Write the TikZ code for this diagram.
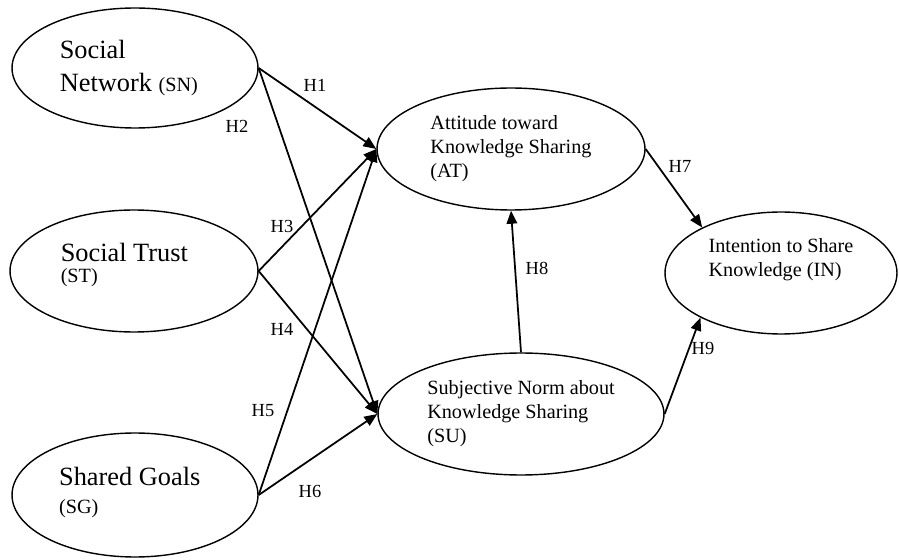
\documentclass[tikz,border=0pt]{standalone}
\usepackage{fontspec}
\setmainfont{Liberation Serif}
\usetikzlibrary{arrows.meta,shapes.geometric}
\def\abbr#1{{\fontsize{11.5}{13}\selectfont(#1)}}

\begin{document}
\begin{tikzpicture}[x=0.02cm, y=-0.02cm,
		construct/.style={ellipse, draw, line width=0.8pt, inner sep=0pt, align=left},
		bigtext/.style={font=\fontsize{15}{19}\selectfont},
		smalltext/.style={font=\fontsize{11.5}{13.6}\selectfont},
		path/.style={line width=1pt, -{Triangle[length=2.6mm, width=2.1mm]}},
		hyp/.style={font=\fontsize{10.5}{12}\selectfont, inner sep=1pt}]
		%%%%% START %%%%%
		\useasboundingbox (0, 0) rectangle (899, 560);
		
		% exogenous constructs
		\node[construct, bigtext, minimum width=4.92cm, minimum height=2.40cm] (SN) at (135, 68) {Social\\Network \abbr{SN}\hspace*{7pt}};
		\node[construct, bigtext, minimum width=4.96cm, minimum height=2.44cm] (ST) at (134, 271) {Social Trust\hspace*{11pt}\\[-7pt]\abbr{ST}\\[-10pt]\mbox{}};
		\node[construct, bigtext, minimum width=4.92cm, minimum height=2.48cm] (SG) at (135, 495) {Shared Goals\hspace*{6pt}\\[-3pt]\abbr{SG}\\[-14pt]\mbox{}};
		
		% mediators and outcome
		\node[construct, smalltext, minimum width=5.36cm, minimum height=2.44cm] (AT) at (511, 149) {Attitude toward\\Knowledge Sharing\\(AT)};
		\node[construct, smalltext, minimum width=5.72cm, minimum height=2.44cm] (SU) at (521, 414) {Subjective Norm about\\Knowledge Sharing\\(SU)};
		\node[construct, smalltext, minimum width=4.64cm, minimum height=2.44cm] (IN) at (781, 273) {Intention to Share\\Knowledge (IN)\\[4pt]\mbox{}};
		
		% hypotheses
		\draw[path] (SN.east) -- (AT.west);
		\draw[path] (SN.east) -- (SU.west);
		\draw[path] (ST.east) -- (AT.west);
		\draw[path] (ST.east) -- (SU.west);
		\draw[path] (SG.east) -- (AT.west);
		\draw[path] (SG.east) -- (SU.west);
		\draw[path] (AT.east) -- (IN.150);
		\draw[path] (SU.north) -- (AT.south);
		\draw[path] (SU.east) -- (IN.209);
		
		\node[hyp] (h1) at (315, 85) {H1};
		\node[hyp] (h2) at (237, 126) {H2};
		\node[hyp] (h3) at (282, 226) {H3};
		\node[hyp] (h4) at (282, 329) {H4};
		\node[hyp] (h5) at (263, 411) {H5};
		\node[hyp] (h6) at (310, 491) {H6};
		\node[hyp] (h7) at (680, 166) {H7};
		\node[hyp] (h8) at (537, 268) {H8};
		\node[hyp] (h9) at (703, 348) {H9};
		%%%%% END %%%%%
\end{tikzpicture}
\end{document}
